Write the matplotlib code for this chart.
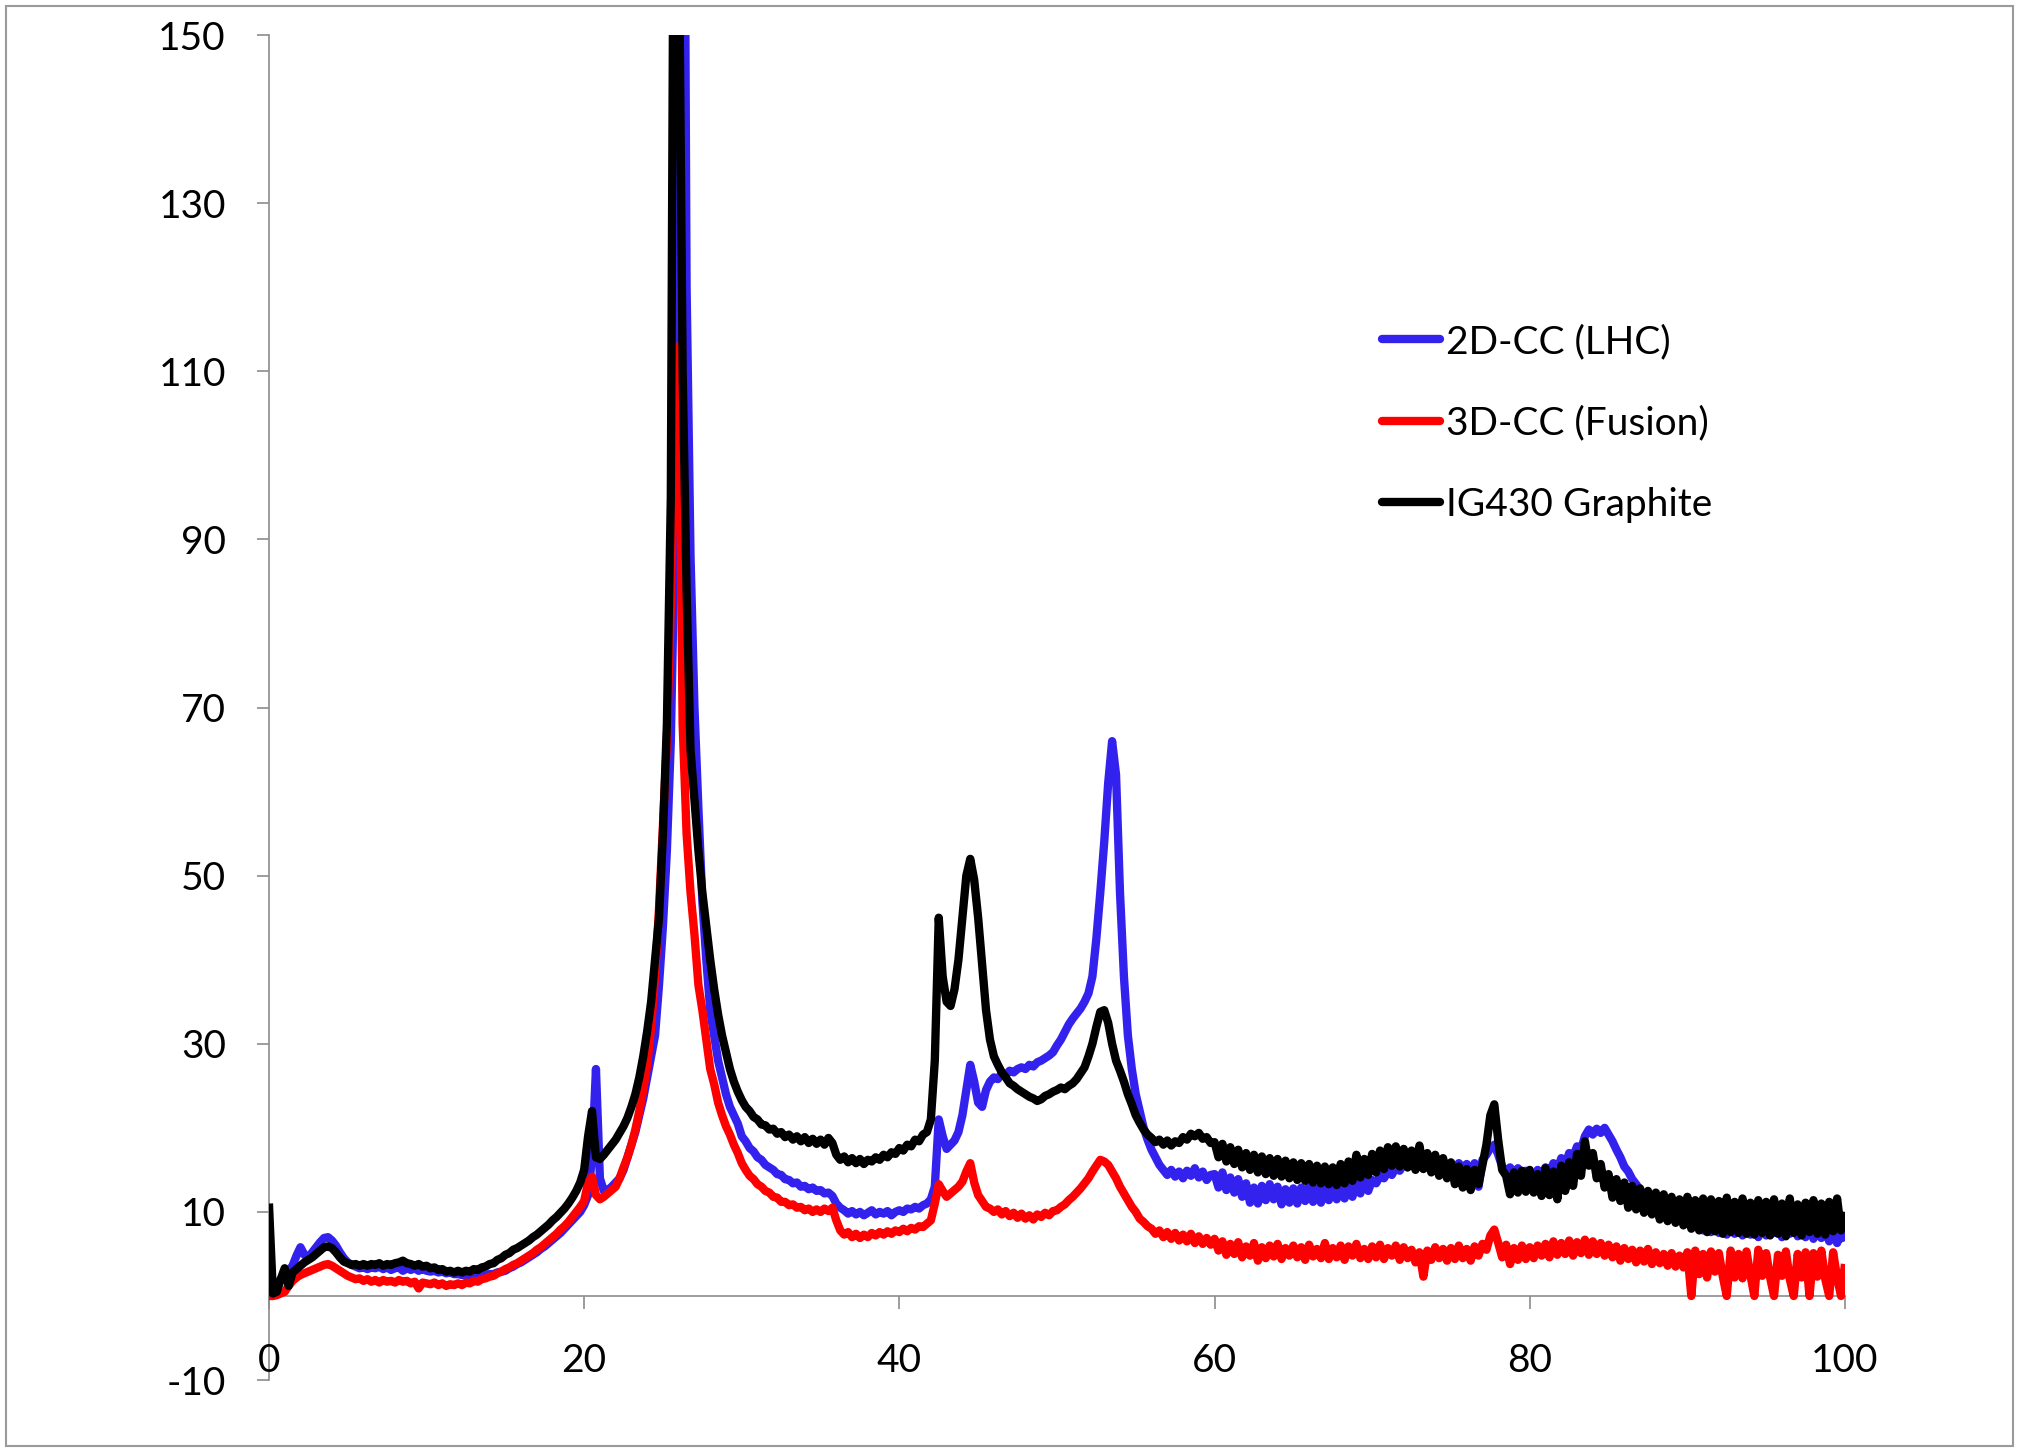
import numpy as np
import matplotlib
matplotlib.use("Agg")
import matplotlib.pyplot as plt
from matplotlib.lines import Line2D
from matplotlib.patches import Rectangle

plt.rcParams["font.family"] = ["Lato", "DejaVu Sans"]
plt.rcParams["axes.unicode_minus"] = False

# 2-theta sampling grid (degrees), 0.25 degree steps
two_theta = np.linspace(0, 100, 401)

# 2D-CC (LHC) intensity, one row per 5 degrees
cc2d_lhc = [
    0.3, 0.5, 1.5, 2.0, 2.6, 3.0, 3.6, 4.8, 5.8, 4.9, 4.6, 5.2, 5.8, 6.4, 6.9, 7.0, 6.6, 6.0, 5.2, 4.5,
    4.0, 3.7, 3.5, 3.3, 3.4, 3.2, 3.4, 3.3, 3.5, 3.2, 3.4, 3.1, 3.3, 3.4, 3.0, 3.3, 3.1, 3.3, 3.0, 3.2,
    3.0, 2.9, 3.0, 2.8, 2.9, 2.7, 2.8, 2.6, 2.6, 2.5, 2.5, 2.4, 2.5, 2.4, 2.5, 2.5, 2.6, 2.6, 2.8, 2.9,
    3.0, 3.3, 3.5, 3.8, 4.0, 4.3, 4.6, 4.9, 5.2, 5.6, 5.9, 6.3, 6.7, 7.1, 7.5, 8.0, 8.5, 9.0, 9.5, 10.0,
    10.8, 12.0, 16.5, 27.0, 14.0, 12.5, 12.6, 13.0, 13.5, 14.0, 15.0, 16.5, 18.0, 19.5, 21.5, 23.5, 26.0, 28.5, 31.0, 37.0,
    44.0, 53.0, 66.0, 90.0, 140.0, 220.0, 120.0, 88.0, 70.0, 58.0, 47.0, 40.0, 34.0, 31.0, 28.0, 26.0, 24.0, 22.5, 21.5, 20.5,
    19.0, 18.4, 17.6, 17.2, 16.5, 16.2, 15.6, 15.3, 15.0, 14.5, 14.4, 13.9, 13.8, 13.4, 13.5, 13.0, 13.1, 12.7, 12.9, 12.5,
    12.6, 12.2, 12.3, 11.9, 11.0, 10.5, 10.2, 9.8, 10.1, 9.7, 10.0, 9.6, 9.9, 10.2, 9.7, 10.0, 9.8, 10.1, 9.6, 10.0,
    10.2, 10.0, 10.4, 10.3, 10.6, 10.4, 10.8, 11.0, 11.5, 13.0, 21.0, 19.0, 17.5, 18.0, 18.5, 19.5, 21.5, 24.5, 27.5, 25.5,
    23.0, 22.5, 24.5, 25.5, 26.0, 25.8, 26.5, 26.3, 26.8, 26.6, 27.0, 27.2, 27.0, 27.5, 27.3, 27.8, 28.0, 28.3, 28.6, 29.0,
    29.8, 30.5, 31.4, 32.3, 33.0, 33.6, 34.2, 35.0, 36.0, 38.0, 42.5, 48.0, 54.0, 61.0, 66.0, 62.0, 48.0, 38.0, 31.0, 27.0,
    24.0, 22.0, 20.0, 18.6, 17.4, 16.5, 15.6, 15.0, 14.4, 15.0, 14.2, 14.8, 14.0, 14.9, 14.3, 15.2, 14.1, 14.8, 13.8, 14.4,
    14.5, 12.9, 14.7, 12.6, 14.1, 12.3, 13.9, 11.8, 13.4, 11.1, 12.9, 11.0, 13.1, 11.4, 13.3, 11.5, 13.0, 10.9, 12.7, 11.1,
    12.8, 11.0, 12.9, 11.3, 13.1, 11.2, 12.8, 11.1, 12.9, 11.4, 13.0, 11.5, 13.3, 11.6, 13.4, 11.8, 13.7, 12.2, 14.1, 12.5,
    13.8, 13.4, 14.3, 14.0, 14.8, 14.4, 15.3, 14.9, 15.8, 15.3, 16.0, 15.6, 16.3, 15.8, 16.4, 15.9, 16.2, 15.5, 15.9, 15.3,
    15.6, 15.0, 15.8, 15.2, 15.7, 14.0, 15.8, 13.0, 16.2, 16.8, 17.6, 18.0, 16.8, 15.4, 14.8, 15.3, 14.6, 15.2, 14.4, 14.9,
    14.6, 14.0, 15.0, 14.3, 15.3, 14.6, 15.8, 15.0, 16.4, 15.6, 17.0, 16.5, 17.8, 17.4, 19.0, 19.8, 19.2, 19.9, 19.4, 20.0,
    19.2, 18.4, 17.4, 16.5, 15.4, 14.8, 13.9, 13.3, 12.6, 12.0, 11.4, 11.0, 10.6, 11.2, 10.2, 10.9, 10.0, 10.6, 9.6, 10.1,
    8.6, 9.8, 8.2, 9.5, 7.8, 9.3, 7.6, 9.2, 7.5, 9.0, 7.3, 9.1, 7.4, 8.9, 7.2, 9.0, 7.3, 8.8, 7.0, 8.7,
    7.2, 9.0, 7.5, 8.8, 7.0, 8.9, 7.4, 8.6, 7.1, 8.7, 7.0, 8.5, 6.8, 8.4, 6.9, 8.2, 6.5, 8.0, 6.3, 7.9,
    6.5,
]

# 3D-CC (Fusion) intensity
cc3d_fusion = [
    0.0, 0.0, 0.1, 0.3, 0.5, 1.2, 1.8, 2.2, 2.5, 2.7, 2.9, 3.1, 3.3, 3.5, 3.7, 3.8, 3.6, 3.3, 3.0, 2.7,
    2.4, 2.2, 2.0, 2.1, 1.8, 2.0, 1.7, 1.9, 1.6, 1.9, 1.7, 1.8, 1.6, 1.9, 1.7, 1.8, 1.5, 1.7, 0.9, 1.6,
    1.5, 1.4, 1.6, 1.3, 1.5, 1.2, 1.4, 1.3, 1.5, 1.3, 1.6, 1.5, 1.8, 1.7, 2.0, 2.1, 2.3, 2.4, 2.7, 2.9,
    3.2, 3.4, 3.7, 3.9, 4.2, 4.5, 4.8, 5.1, 5.5, 5.8, 6.2, 6.6, 7.0, 7.4, 7.9, 8.3, 8.8, 9.4, 10.0, 10.6,
    11.3, 13.5, 14.2, 12.0, 11.5, 11.8, 12.2, 12.6, 13.0, 14.0, 15.3, 16.5, 18.0, 19.8, 22.0, 24.5, 27.5, 32.0, 38.0, 46.0,
    56.0, 66.0, 82.0, 108.0, 113.0, 68.0, 55.0, 48.0, 43.0, 37.0, 34.0, 30.5, 27.0, 25.2, 23.0, 21.5, 20.2, 19.2, 18.0, 17.0,
    15.8, 15.0, 14.3, 13.9, 13.3, 13.0, 12.5, 12.3, 11.8, 11.7, 11.2, 11.2, 10.8, 10.9, 10.5, 10.6, 10.2, 10.4, 10.0, 10.3,
    10.0, 10.4, 10.1, 10.5, 9.0, 7.8, 7.3, 7.6, 7.0, 7.4, 6.9, 7.3, 7.0, 7.5, 7.2, 7.6, 7.3, 7.7, 7.4, 7.8,
    7.6, 8.0, 7.7, 8.1, 7.9, 8.3, 8.2, 8.6, 9.0, 11.0, 13.3, 12.5, 11.8, 12.2, 12.6, 13.0, 13.6, 14.8, 15.8, 13.5,
    12.0, 11.3, 10.6, 10.4, 10.0, 10.3, 9.7, 10.1, 9.5, 9.9, 9.3, 9.8, 9.2, 9.6, 9.1, 9.7, 9.4, 9.9, 9.6, 10.1,
    10.2, 10.6, 10.9, 11.4, 11.8, 12.3, 12.8, 13.4, 14.0, 14.8, 15.5, 16.2, 16.0, 15.6, 14.8, 14.0, 13.0, 12.2, 11.4, 10.6,
    10.0, 9.2, 8.8, 8.3, 8.0, 7.4, 7.8, 7.0, 7.6, 6.8, 7.5, 6.6, 7.3, 6.5, 7.4, 6.3, 7.1, 6.2, 6.9, 6.1,
    6.8, 5.4, 6.5, 4.9, 6.2, 5.0, 6.4, 4.6, 5.9, 4.8, 6.3, 4.2, 5.8, 4.5, 6.0, 4.7, 6.2, 4.4, 5.7, 4.8,
    6.0, 4.6, 5.8, 4.3, 6.1, 4.7, 5.6, 4.5, 6.3, 4.4, 5.7, 4.6, 6.0, 4.3, 5.9, 4.8, 6.2, 4.5, 5.6, 4.4,
    5.9, 4.6, 6.1, 4.4, 5.7, 4.8, 6.0, 4.3, 5.8, 4.5, 5.5, 4.0, 5.2, 2.3, 5.4, 4.3, 5.8, 4.5, 5.6, 4.2,
    5.7, 4.4, 6.0, 4.5, 5.6, 4.2, 5.9, 4.8, 6.2, 5.5, 7.2, 7.9, 6.3, 4.6, 6.1, 3.8, 5.7, 4.3, 6.0, 4.4,
    5.8, 4.5, 6.0, 4.8, 6.2, 4.6, 6.5, 4.9, 6.3, 5.0, 6.6, 4.8, 6.4, 5.1, 6.7, 4.9, 6.5, 5.0, 6.3, 4.8,
    6.1, 4.6, 5.9, 4.2, 5.7, 4.4, 5.5, 4.0, 5.4, 4.1, 5.6, 3.8, 5.2, 3.9, 5.0, 3.6, 5.1, 3.5, 4.8, 3.4,
    5.2, 0.0, 5.4, 2.6, 5.0, 2.2, 5.3, 2.9, 5.1, 2.3, 0.0, 5.4, 2.2, 5.0, 2.1, 5.3, 2.5, 0.0, 5.5, 2.4,
    5.1, 2.2, 0.0, 4.9, 2.4, 5.3, 2.0, 0.0, 5.0, 2.2, 5.2, 0.0, 5.1, 2.3, 5.4, 2.0, 0.0, 5.2, 2.2, 0.0,
    3.8,
]

# IG430 Graphite intensity
ig430_graphite = [
    11.0, 0.3, 0.5, 2.0, 3.3, 1.2, 2.8, 3.2, 3.6, 4.0, 4.3, 4.6, 5.0, 5.4, 5.8, 5.9, 5.7, 5.2, 4.6, 4.1,
    3.9, 3.7, 3.8, 3.6, 3.8, 3.6, 3.8, 3.7, 3.9, 3.6, 3.8, 3.7, 3.9, 4.0, 4.2, 3.9, 3.8, 3.6, 3.8, 3.5,
    3.6, 3.3, 3.4, 3.1, 3.2, 2.9, 3.0, 2.8, 3.0, 2.8, 3.0, 2.9, 3.2, 3.1, 3.4, 3.5, 3.8, 3.9, 4.3, 4.5,
    4.9, 5.1, 5.5, 5.7, 6.0, 6.3, 6.6, 7.0, 7.3, 7.7, 8.1, 8.5, 9.0, 9.4, 9.9, 10.4, 11.0, 11.7, 12.5, 13.5,
    15.0, 19.0, 22.0, 16.5, 16.3, 16.8, 17.4, 18.0, 18.6, 19.4, 20.2, 21.2, 22.5, 24.0, 26.0, 28.5, 31.5, 35.0, 40.0, 45.0,
    55.0, 68.0, 95.0, 200.0, 165.0, 110.0, 84.0, 65.0, 59.0, 53.0, 48.0, 44.0, 40.0, 36.5, 33.5, 31.0, 29.0, 27.0, 25.5, 24.3,
    23.3, 22.5, 22.0, 21.3, 21.0, 20.4, 20.3, 19.8, 19.9, 19.3, 19.5, 18.9, 19.2, 18.6, 19.0, 18.4, 18.9, 18.2, 18.7, 18.1,
    18.6, 18.0, 18.8, 18.2, 16.8, 16.2, 16.6, 15.9, 16.4, 15.8, 16.3, 15.7, 16.2, 16.0, 16.5, 16.2, 16.8, 16.5, 17.1, 16.9,
    17.6, 17.3, 18.0, 17.8, 18.6, 18.4, 19.2, 19.5, 21.0, 28.0, 45.0, 38.0, 35.0, 34.5, 36.5, 40.0, 45.0, 50.0, 52.0, 49.5,
    45.0, 39.5, 34.0, 30.5, 28.5, 27.5, 26.6, 26.0, 25.3, 25.0, 24.6, 24.3, 24.0, 23.7, 23.5, 23.2, 23.4, 23.8, 24.0, 24.3,
    24.5, 24.8, 24.6, 25.0, 25.3, 25.8, 26.5, 27.2, 28.5, 30.0, 32.0, 33.8, 34.0, 32.5, 30.0, 28.0, 26.8, 25.5, 24.0, 22.8,
    21.5, 20.6, 19.8, 19.2, 18.8, 18.3, 18.6, 18.0, 18.5, 17.9, 18.4, 18.2, 18.9, 18.6, 19.3, 19.0, 19.4, 18.7, 18.9, 18.2,
    18.3, 16.5, 18.1, 16.0, 17.7, 15.7, 17.4, 15.3, 17.0, 15.0, 16.8, 14.7, 16.6, 14.5, 16.4, 14.3, 16.3, 14.2, 16.1, 14.0,
    15.9, 13.8, 15.8, 13.7, 15.7, 13.5, 15.5, 13.4, 15.4, 13.3, 15.3, 13.2, 15.7, 13.4, 16.0, 13.7, 16.8, 14.1, 16.3, 14.4,
    16.9, 14.7, 17.3, 15.1, 17.7, 15.5, 17.8, 15.4, 17.5, 15.3, 17.3, 15.0, 17.9, 15.1, 17.0, 14.7, 16.8, 14.3, 16.4, 14.0,
    15.9, 13.3, 15.4, 12.9, 15.1, 12.6, 15.0, 13.3, 15.6, 18.0, 21.5, 22.8, 18.5, 15.0, 14.3, 12.1, 14.7, 12.3, 14.9, 12.4,
    15.0, 12.3, 14.5, 11.9, 15.2, 12.0, 14.8, 11.5, 15.5, 12.5, 15.9, 13.1, 16.9, 14.3, 18.4, 15.5, 17.0, 14.0, 15.7, 12.9,
    14.5, 11.7, 13.9, 11.3, 13.5, 10.5, 13.1, 10.3, 12.8, 9.9, 12.5, 9.7, 12.3, 9.1, 12.1, 8.9, 11.8, 8.7, 11.5, 8.4,
    11.8, 8.0, 11.4, 7.8, 11.6, 7.6, 11.5, 7.7, 11.3, 7.4, 11.7, 7.6, 11.2, 7.5, 11.6, 7.4, 11.1, 7.3, 11.4, 7.5,
    11.2, 7.2, 11.5, 7.4, 11.0, 7.1, 11.6, 7.5, 10.9, 7.2, 11.1, 7.6, 11.4, 7.4, 11.0, 7.3, 11.2, 7.7, 11.6, 7.8,
    10.0,
]

series_labels = ["2D-CC (LHC)", "3D-CC (Fusion)", "IG430 Graphite"]
series_colors = ["#3322EE", "#FF0000", "#000000"]
x_ticks = [0, 20, 40, 60, 80, 100]
y_ticks = [-10, 10, 30, 50, 70, 90, 110, 130, 150]

fig = plt.figure(figsize=(20.19, 14.53), dpi=100)
ax = fig.add_axes([0.1332, 0.0502, 0.7806, 0.9257])

for values, color in zip([cc2d_lhc, cc3d_fusion, ig430_graphite], series_colors):
    ax.plot(two_theta, values, color=color, lw=6.0, zorder=3,
            solid_joinstyle="round", solid_capstyle="butt")

ax.set_xlim(0, 100)
ax.set_ylim(-10, 150)
ax.set_xticks(x_ticks)
ax.set_yticks(y_ticks)
ax.set_xticklabels([str(v) for v in x_ticks])
ax.set_yticklabels([str(v) for v in y_ticks])

axis_gray = "#8c8c8c"
for side in ("top", "right"):
    ax.spines[side].set_visible(False)
ax.spines["bottom"].set_position(("data", 0))
for side in ("left", "bottom"):
    ax.spines[side].set_color(axis_gray)
    ax.spines[side].set_linewidth(1.2)
    ax.spines[side].set_zorder(1)

ax.tick_params(axis="both", direction="out", length=9, width=1.2,
               color=axis_gray, labelsize=28, labelcolor="#000000")
ax.tick_params(axis="x", pad=25)
ax.tick_params(axis="y", pad=22)

handles = [Line2D([0], [0], color=c, lw=6, solid_capstyle="round")
           for c in series_colors]
ax.legend(handles, series_labels, loc="upper left",
          bbox_to_anchor=(1382 / 2019, 1 - 324 / 1453),
          bbox_transform=fig.transFigure, frameon=False, fontsize=28,
          handlelength=1.5, handletextpad=0.15, labelspacing=1.17,
          borderpad=0, borderaxespad=0)

fig.patches.append(Rectangle((0.003, 0.0048), 0.994, 0.9911,
                             transform=fig.transFigure, fill=False,
                             edgecolor="#9a9a9a", lw=1.5))

fig.savefig("out.png", dpi=100, facecolor="white")
